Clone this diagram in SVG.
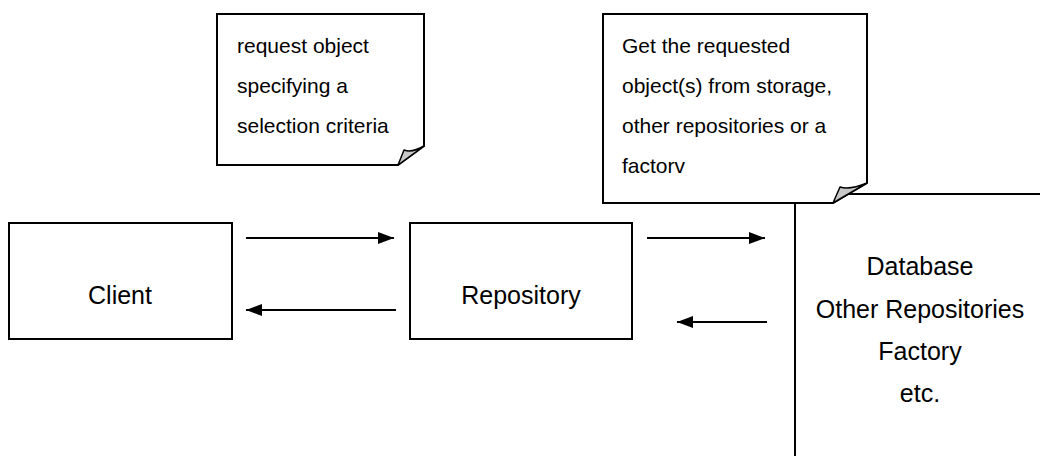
<svg xmlns="http://www.w3.org/2000/svg" width="1040" height="456" viewBox="0 0 1040 456">
  <style>
    .box { fill: #ffffff; stroke: #000000; stroke-width: 2; }
    .note { fill: #ffffff; stroke: #000000; stroke-width: 2; stroke-linejoin: miter; }
    .fold { fill: #c8c8c8; stroke: #000000; stroke-width: 1.5; stroke-linejoin: round; }
    .lbl { font-family: "Liberation Sans", Arial, sans-serif; font-size: 25px; fill: #000000; text-anchor: middle; }
    .ntxt { font-family: "Liberation Sans", Arial, sans-serif; font-size: 21px; fill: #000000; }
    .conn { stroke: #000000; stroke-width: 2; fill: none; }
  </style>
  <defs>
    <marker id="arrow" viewBox="0 0 16 12" refX="16" refY="6" markerWidth="16" markerHeight="12" markerUnits="userSpaceOnUse" orient="auto">
      <path d="M0,0 L16,6 L0,12 Z" fill="#000000"/>
    </marker>
  </defs>
  <rect width="1040" height="456" fill="#ffffff"/>

  <!-- data sources box (runs off the right and bottom edges) -->
  <g id="datasources">
    <rect class="box" x="795" y="194" width="260" height="280"/>
    <text class="lbl" x="920" y="275">Database</text>
    <text class="lbl" x="920" y="318">Other Repositories</text>
    <text class="lbl" x="920" y="360">Factory</text>
    <text class="lbl" x="920" y="402">etc.</text>
  </g>

  <g id="client">
    <rect class="box" x="9" y="223" width="223" height="116"/>
    <text class="lbl" x="120" y="304">Client</text>
  </g>

  <g id="repository">
    <rect class="box" x="410" y="223" width="222" height="116"/>
    <text class="lbl" x="521" y="304">Repository</text>
  </g>

  <g id="connectors">
    <line class="conn" x1="246" y1="238" x2="394" y2="238" marker-end="url(#arrow)"/>
    <line class="conn" x1="396" y1="310" x2="246" y2="310" marker-end="url(#arrow)"/>
    <line class="conn" x1="647" y1="238" x2="765" y2="238" marker-end="url(#arrow)"/>
    <line class="conn" x1="767" y1="322" x2="677" y2="322" marker-end="url(#arrow)"/>
  </g>

  <!-- note with folded bottom-right corner -->
  <g id="note-request">
    <path class="note" d="M217,14 L424,14 L424,146 L398,165 L217,165 Z"/>
    <path class="fold" d="M398,165 L404,150 Q412,153 424,146 Z"/>
    <text class="ntxt" x="237" y="53">request object</text>
    <text class="ntxt" x="237" y="93">specifying a</text>
    <text class="ntxt" x="237" y="133">selection criteria</text>
  </g>

  <g id="note-retrieve">
    <path class="note" d="M603,14 L867,14 L867,183 L833,203 L603,203 Z"/>
    <path class="fold" d="M833,203 L840,187 Q850,190 867,183 Z"/>
    <text class="ntxt" x="622" y="53">Get the requested</text>
    <text class="ntxt" x="622" y="93">object(s) from storage,</text>
    <text class="ntxt" x="622" y="133">other repositories or a</text>
    <text class="ntxt" x="622" y="173">factorv</text>
  </g>
</svg>
